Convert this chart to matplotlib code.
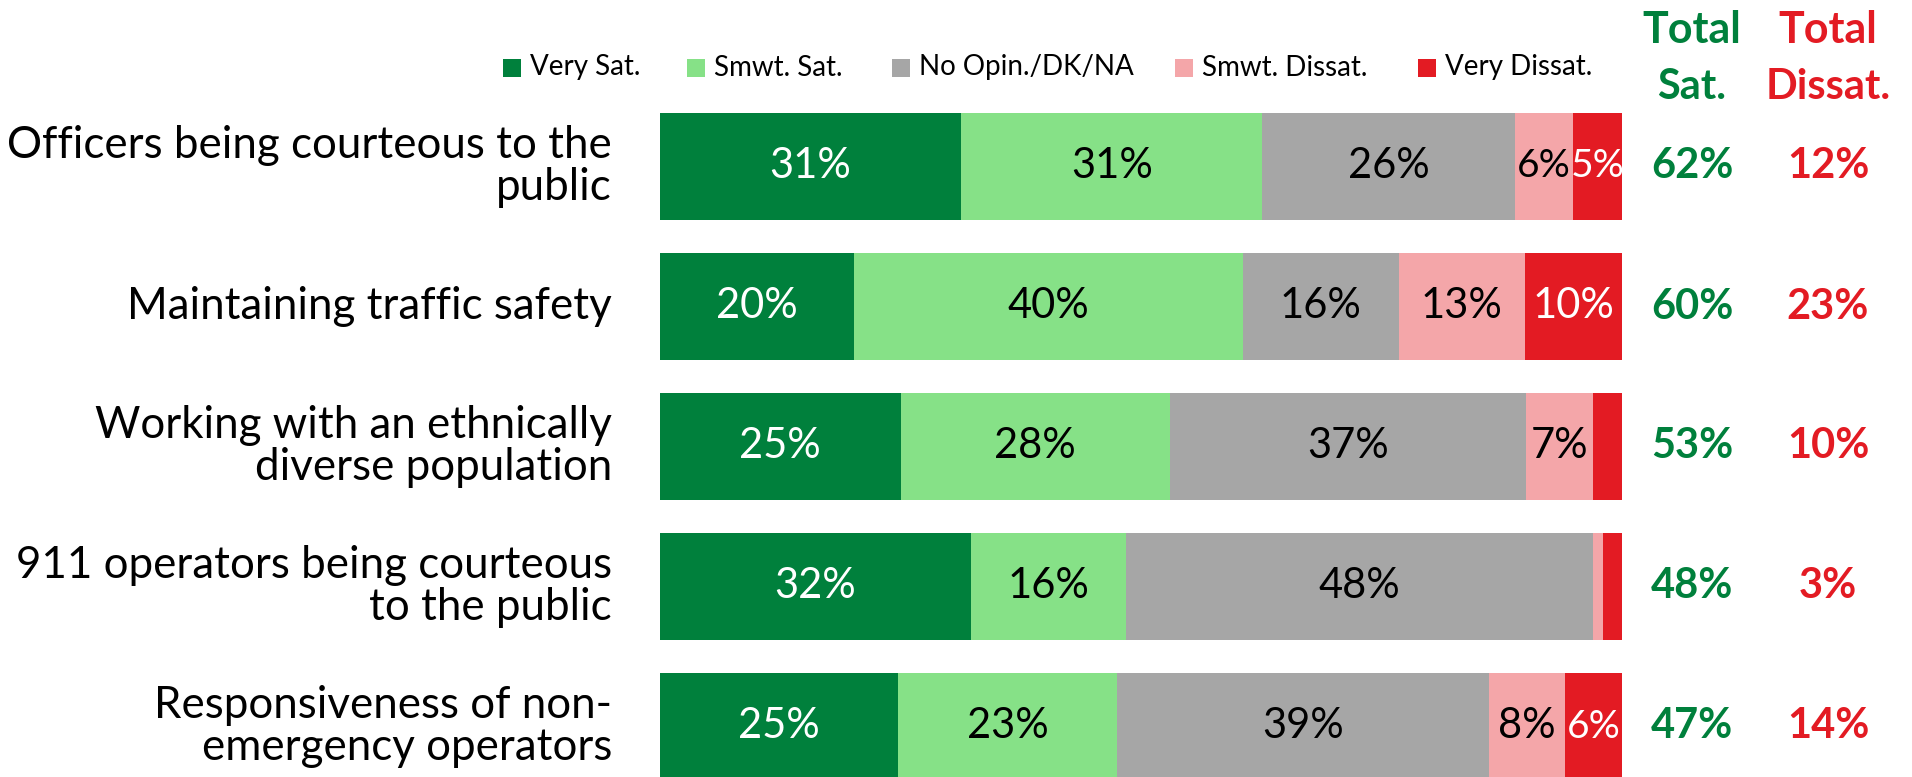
import matplotlib
matplotlib.use("Agg")
import matplotlib.pyplot as plt
from matplotlib.patches import Rectangle

plt.rcParams['font.family'] = ['Lato', 'DejaVu Sans']

categories = ["Officers being courteous to the\npublic",
              "Maintaining traffic safety",
              "Working with an ethnically\ndiverse population",
              "911 operators being courteous\nto the public",
              "Responsiveness of non-\nemergency operators"]
series_names = ["Very Sat.", "Smwt. Sat.", "No Opin./DK/NA", "Smwt. Dissat.", "Very Dissat."]
very_sat = [31, 20, 25, 32, 25]
smwt_sat = [31, 40, 28, 16, 23]
no_opin = [26, 16, 37, 48, 39]
smwt_dissat = [6, 13, 7, 1, 8]
very_dissat = [5, 10, 3, 2, 6]
total_sat = [62, 60, 53, 48, 47]
total_dissat = [12, 23, 10, 3, 14]

colors = ["#00803C", "#86E187", "#A6A6A6", "#F4A6A9", "#E31B23"]
label_colors = ["white", "black", "black", "black", "white"]
GREEN = "#00803C"
RED = "#E31B23"

W, H = 1912, 777
fig = plt.figure(figsize=(W / 100, H / 100), dpi=100)

# axes placed so bars land where they are in the reference
ax_left, ax_right = 660, 1622
ax = fig.add_axes([ax_left / W, 0, (ax_right - ax_left) / W, 1])
pitch = 140.0
c0 = 166.5
ax.set_ylim((H - c0) / pitch, -c0 / pitch)
ax.set_xlim(0, 1)
ax.axis('off')

series = [very_sat, smwt_sat, no_opin, smwt_dissat, very_dissat]
bar_h = 107 / pitch
for i in range(len(categories)):
    total = sum(s[i] for s in series)
    left = 0.0
    for k, s in enumerate(series):
        w = s[i] / total
        ax.barh(i, w, left=left, height=bar_h, color=colors[k], linewidth=0)
        if s[i] >= 5:
            fs = 30 if s[i] >= 7 else 28
            ax.text(left + w / 2, i, f"{s[i]}%", ha='center', va='center',
                    fontsize=fs, color=label_colors[k])
        left += w
    y = 1 - (c0 + i * pitch) / H
    fig.text(612 / W, y, categories[i], ha='right', va='center',
             multialignment='right', fontsize=31.6, linespacing=1.0)
    fig.text(1692 / W, y, f"{total_sat[i]}%", ha='center',
             va='center', fontsize=30, fontweight='bold', color=GREEN)
    fig.text(1828 / W, y, f"{total_dissat[i]}%", ha='center',
             va='center', fontsize=30, fontweight='bold', color=RED)

# column headers
for x, second, col in [(1692, "Sat.", GREEN), (1828, "Dissat.", RED)]:
    fig.text(x / W, 1 - 43 / H, "Total", ha='center', va='baseline', fontsize=31,
             fontweight='bold', color=col)
    fig.text(x / W, 1 - 99 / H, second, ha='center', va='baseline', fontsize=30,
             fontweight='bold', color=col)

# legend
leg_x = [503, 687, 892, 1175, 1418]
leg_y = 67.5
sq = 18
for k, name in enumerate(series_names):
    fig.add_artist(Rectangle((leg_x[k] / W, 1 - (leg_y + sq / 2) / H), sq / W, sq / H,
                             transform=fig.transFigure, color=colors[k], linewidth=0))
    fig.text((leg_x[k] + 27) / W, 1 - leg_y / H, name, ha='left', va='center', fontsize=20)

fig.savefig("out.png", dpi=100)
